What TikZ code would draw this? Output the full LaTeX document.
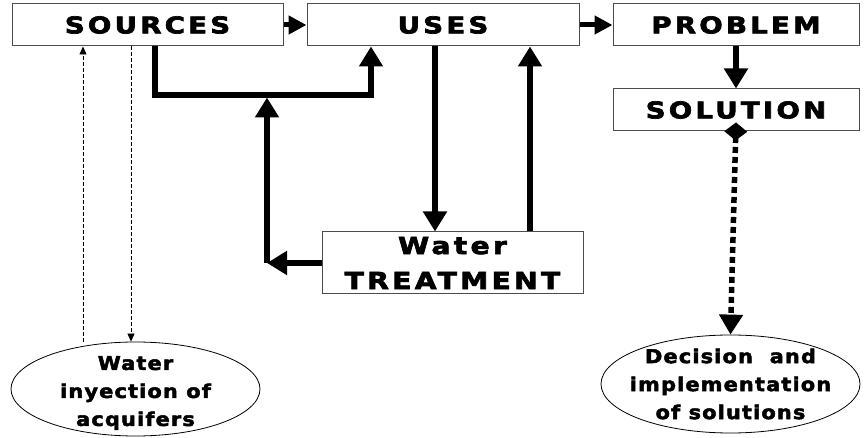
\documentclass[tikz,border=0pt]{standalone}
\usepackage{fontspec}
\usepackage{tikz}
\usetikzlibrary{arrows.meta,shapes,positioning}
\newfontfamily\capsfont[LetterSpace=14,FakeStretch=1.2,FakeBold=3]{DejaVu Sans}
\newfontfamily\ovalfont[LetterSpace=6,FakeStretch=1.1,FakeBold=2.5]{DejaVu Sans}

\begin{document}
\begin{tikzpicture}[x=1pt,y=-1pt]%[->,>=stealth', semithick]
\tikzstyle{stage}=[draw=black!70, line width=1pt, shape=rectangle, minimum height=42pt, inner sep=0pt, font=\capsfont\bfseries\fontsize{23}{32}\selectfont]
\tikzstyle{outcome}=[draw, line width=0.8pt, shape=ellipse, inner sep=0pt]
\tikzstyle{outtext}=[align=center, font=\ovalfont\bfseries\fontsize{19}{28}\selectfont]
\tikzstyle{flow}=[line width=5.5pt, -{Triangle[length=20pt,width=23pt]}]
\tikzstyle{link}=[line width=5pt, -{Triangle[length=18pt,width=18pt]}]
\tikzstyle{feed}=[line width=0.8pt, dash pattern=on 4pt off 2pt, -{Triangle[length=8pt,width=7pt]}]
\useasboundingbox (0,0) rectangle (868,438);
\node[stage, minimum width=271pt] (0) at (147.5,25) {SOURCES};
\node[stage, minimum width=272pt] (1) [right=23pt of 0] {USES};
\node[stage, minimum width=246pt] (2) [right=33pt of 1] {PROBLEM};
\node[stage, minimum width=246pt] (3) [below=42pt of 2] {SOLUTION};
\node[stage, minimum width=261pt, minimum height=62pt, align=center, font=\capsfont\bfseries\fontsize{23.5}{35}\selectfont] (4) at (452.5,263) {Water\\TREATMENT};
\node[outcome, minimum width=249pt, minimum height=94pt, label={[outtext, yshift=-4pt]center:Water\\inyection of\\acquifers}] (5) at (135.5,389) {};
\node[outcome, minimum width=259pt, minimum height=98pt, label={[outtext]center:Decision~~and\\implementation\\of solutions}] (6) at (730.5,384) {};
\coordinate (j) at (267,95);
\coordinate (k) at (4.west -| j);

\draw[link] (0.east) to (1.west);
\draw[link] (1.east) to (2.west);
\draw[flow] (2.south) to (3.north);
\draw[flow, dash pattern=on 6pt off 4pt, {Diamond[length=18pt,width=23pt]}-{Triangle[length=20pt,width=23pt]}] ([yshift=9pt]3.south) to (6.north);
%\draw[flow] (3.south) to (6.north);

\draw[flow] ([xshift=7.5pt]0.south) |- ([xshift=-72pt]1.south |- j) -- ([xshift=-72pt]1.south);
\draw[flow] (4.west) to (k);
\draw[flow] (k) to ([yshift=-2.5pt]j);
\draw[flow] ([xshift=-8pt]1.south) to ([xshift=-8pt]1.south |- 4.north);
\draw[flow] ([xshift=87pt]1.south |- 4.north) to ([xshift=87pt]1.south);

\draw[feed] ([xshift=-52.5pt]5.north) to ([xshift=-52.5pt]5.north |- 0.south);
\draw[feed] ([xshift=-4.5pt]5.north |- 0.south) to ([xshift=-4.5pt]5.north);

\end{tikzpicture}
\end{document}
